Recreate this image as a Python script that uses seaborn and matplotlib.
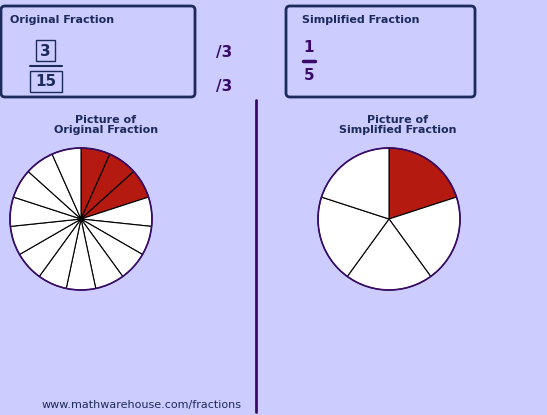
import matplotlib
matplotlib.use("Agg")
import matplotlib.pyplot as plt
import seaborn as sns
from matplotlib.patches import FancyBboxPatch, Rectangle

sns.set_theme(style="white")
plt.rcParams['font.family'] = ['DejaVu Sans']

# fraction data
orig_num, orig_den = 3, 15
simp_num, simp_den = 1, 5
divisor = 3
titles = ["Original Fraction", "Simplified Fraction"]
pic_titles = ["Picture of\nOriginal Fraction", "Picture of\nSimplified Fraction"]

bg = "#ccccff"
navy = "#1c2a5c"
purple = "#3a0a6a"
pizza = "#b51a10"

fig = plt.figure(figsize=(5.47, 4.15), dpi=100, facecolor=bg)
ax = fig.add_axes([0, 0, 1, 1])
ax.set_facecolor(bg)
ax.set_xlim(0, 547)
ax.set_ylim(415, 0)
ax.axis("off")

# top boxes
for x0, w in [(1, 194), (286, 189)]:
    ax.add_patch(FancyBboxPatch((x0, 6), w, 91, boxstyle="round,pad=0,rounding_size=4",
                                fc=bg, ec=navy, lw=2))
ax.text(10, 20, titles[0], color=navy, fontsize=8, fontweight="bold", va="center")
ax.text(302, 20, titles[1], color=navy, fontsize=8, fontweight="bold", va="center")

# original fraction with boxes
ax.add_patch(Rectangle((36, 40), 19, 21, fc="none", ec=navy, lw=1))
ax.text(45.5, 51, str(orig_num), color=navy, fontsize=11, fontweight="bold", ha="center", va="center")
ax.plot([30, 62], [66, 66], color=navy, lw=1.5)
ax.add_patch(Rectangle((30, 71), 32, 21, fc="none", ec=navy, lw=1))
ax.text(46, 82, str(orig_den), color=navy, fontsize=11, fontweight="bold", ha="center", va="center")
ax.text(224, 52, f"/{divisor}", color=purple, fontsize=11, fontweight="bold", ha="center", va="center")
ax.text(224, 86, f"/{divisor}", color=purple, fontsize=11, fontweight="bold", ha="center", va="center")

# simplified fraction
ax.text(309, 47, str(simp_num), color=purple, fontsize=11, fontweight="bold", ha="center", va="center")
ax.plot([303, 315], [61, 61], color=purple, lw=2.5)
ax.text(309, 75, str(simp_den), color=purple, fontsize=11, fontweight="bold", ha="center", va="center")

# divider
ax.plot([256, 256], [100, 412], color=purple, lw=2)

# picture titles
ax.text(106, 125, pic_titles[0], color=navy, fontsize=8, fontweight="bold", ha="center", va="center", linespacing=1.1)
ax.text(398, 125, pic_titles[1], color=navy, fontsize=8, fontweight="bold", ha="center", va="center", linespacing=1.1)

# pies (y axis inverted, so counterclock=True draws visually clockwise)
for (cx, cy), num, den in [((81, 219), orig_num, orig_den), ((389, 219), simp_num, simp_den)]:
    colors = [pizza] * num + ["white"] * (den - num)
    ax.pie([1] * den, colors=colors, center=(cx, cy), radius=71, startangle=-90,
           counterclock=True, wedgeprops=dict(edgecolor="black", linewidth=0.8), frame=True)
    ax.add_patch(plt.Circle((cx, cy), 71, fc="none", ec=purple, lw=1.2))

ax.set_xlim(0, 547)
ax.set_ylim(415, 0)
ax.axis("off")

ax.text(142, 405, "www.mathwarehouse.com/fractions", color=navy, fontsize=8, ha="center", va="center")

fig.savefig("out.png", dpi=100, facecolor=bg)
